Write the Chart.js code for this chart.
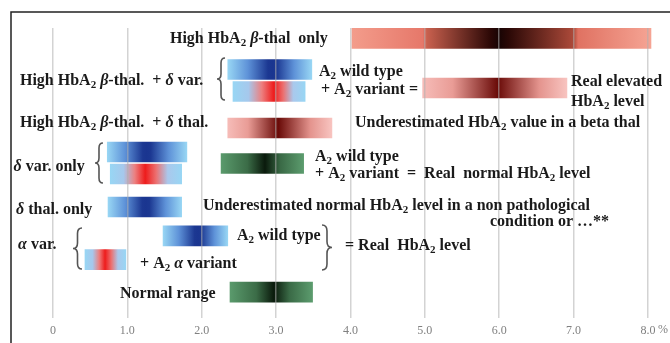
<!DOCTYPE html>
<html><head><meta charset="utf-8">
<script src="https://cdn.jsdelivr.net/npm/chart.js@4/dist/chart.umd.min.js"></script>
<style>html,body{margin:0;padding:0;background:#fff;overflow:hidden}canvas{display:block}</style>
</head><body>
<canvas id="c" width="670" height="343"></canvas>
<script>
// ---- data ----
const tickValues = [0, 1, 2, 3, 4, 5, 6, 7, 8];
const tickLabels = ['0', '1.0', '2.0', '3.0', '4.0', '5.0', '6.0', '7.0', '8.0'];
const barNames = ['High b-thal only', 'b-thal+d var: A2 wild type', 'b-thal+d var: A2 variant', 'Real elevated HbA2',
  'b-thal+d thal', 'd var only: wild type', 'd var only: variant', 'Real normal HbA2', 'd thal only',
  'a var: A2 wild type', 'a var: A2 a variant', 'Normal range'];
const barStart = [4.02, 2.35, 2.42, 4.97, 2.35, 0.73, 0.77, 2.26, 0.74, 1.48, 0.43, 2.38];
const barEnd   = [8.04, 3.48, 3.39, 6.91, 3.75, 1.80, 1.73, 3.37, 1.73, 2.35, 0.98, 3.49];
const barPeak  = [6.00, 2.95, 2.97, 5.98, 3.03, 1.26, 1.24, 2.85, 1.25, 1.95, 0.70, 2.97];
const barLane  = [0.95, 3.77, 5.77, 5.45, 9.09, 11.27, 13.27, 12.32, 16.27, 18.9, 21.05, 24.0];
const barKind  = ['deep', 'blue', 'bluered', 'rose', 'rose', 'blue', 'bluered', 'green', 'blue', 'blue', 'bluered', 'green'];

const labelTexts = [
  'High HbA_2 ~β~-thal  only',
  'High HbA_2 ~β~-thal.  + ~δ~ var.',
  'A_2 wild type',
  '+ A_2 variant =',
  'Real elevated',
  'HbA_2 level',
  'High HbA_2 ~β~-thal.  + ~δ~ thal.',
  'Underestimated HbA_2 value in a beta thal',
  '~δ~ var. only',
  'A_2 wild type',
  '+ A_2 variant  =  Real  normal HbA_2 level',
  '~δ~ thal. only',
  'Underestimated normal HbA_2 level in a non pathological',
  'condition or …**',
  '~α~ var.',
  'A_2 wild type',
  '+ A_2 ~α~ variant',
  '= Real  HbA_2 level',
  'Normal range'
];

// ---- layout (annotation anchors in axis units) ----
const labelAt = [
  [1.573, 1.364, 'left'], [-0.444, 5.18, 'left'], [3.577, 4.364, 'left'], [3.603, 6.0, 'left'],
  [6.965, 5.27, 'left'], [6.965, 7.09, 'left'], [-0.444, 9.0, 'left'], [4.06, 9.0, 'left'],
  [-0.53, 13.0, 'left'], [3.523, 12.09, 'left'], [3.523, 13.64, 'left'], [-0.497, 16.91, 'left'],
  [2.017, 16.55, 'left'], [7.476, 18.0, 'right'], [-0.47, 20.09, 'left'], [2.474, 19.27, 'left'],
  [1.17, 21.82, 'left'], [3.926, 20.18, 'left'], [0.901, 24.55, 'left']
];
const braces = [ // [tipX, backX, top, bottom]
  [2.205, 2.313, 2.73, 6.545],
  [0.565, 0.672, 10.45, 14.09],
  [0.269, 0.39, 18.18, 21.91],
  [3.751, 3.617, 17.91, 22.0]
];

const palettes = {
  deep: [[-1, '#f39c8b'], [-0.52, '#e6786a'], [-0.49, '#c8604e'], [-0.06, '#2c0806'], [0, '#180404'], [0.06, '#2a0806'], [0.49, '#ad4a3a'], [0.52, '#e07262'], [1, '#f5a494']],
  rose: [[-1, '#f6bcb8'], [-0.6, '#e99c96'], [0, '#6a0b08'], [0.6, '#e4948e'], [1, '#f8c4c0']],
  blue: [[-1, '#98d6f4'], [-0.55, '#5e92d8'], [-0.1, '#1c3892'], [0, '#1a3590'], [0.1, '#1c3892'], [0.55, '#5e92d8'], [1, '#98d6f4']],
  bluered: [[-1, '#98d6f4'], [-0.62, '#a6c8ec'], [-0.3, '#ec8080'], [0, '#ee1c1c'], [0.3, '#ec7070'], [0.62, '#aac8ec'], [1, '#98d6f4']],
  green: [[-1, '#5a9a6c'], [-0.4, '#3b6c47'], [0, '#0a1a0c'], [0.4, '#3a6a46'], [1, '#5c9c6e']]
};

function barGradient(context) {
  const chart = context.chart;
  const i = context.dataIndex;
  if (!chart.chartArea || i === undefined) return '#999';
  const x = chart.scales.x;
  const a = x.getPixelForValue(barStart[i]);
  const b = x.getPixelForValue(barEnd[i]);
  const p = (barPeak[i] - barStart[i]) / (barEnd[i] - barStart[i]);
  const g = chart.ctx.createLinearGradient(a, 0, b, 0);
  palettes[barKind[i]].forEach(([t, c]) => {
    const pos = t < 0 ? p * (1 + t) : p + (1 - p) * t;
    g.addColorStop(Math.min(1, Math.max(0, pos)), c);
  });
  return g;
}

function drawRich(ctx, str, x, y, align, size) {
  const segs = [];
  let it = false;
  for (let i = 0; i < str.length; i++) {
    const ch = str[i];
    if (ch === '~') { it = !it; continue; }
    let s;
    if (ch === '_') { s = { t: str[i + 1], sub: true, it }; i++; }
    else s = { t: ch, sub: false, it };
    const last = segs[segs.length - 1];
    if (last && last.sub === s.sub && last.it === s.it && !s.sub) last.t += s.t;
    else segs.push(s);
  }
  const fontFor = s => (s.it ? 'italic ' : '') + 'bold ' + (s.sub ? Math.round(size * 0.66) : size) + 'px "Liberation Serif", "Times New Roman", serif';
  let w = 0;
  segs.forEach(s => { ctx.font = fontFor(s); s.w = ctx.measureText(s.t).width; w += s.w; });
  let cx = align === 'right' ? x - w : align === 'center' ? x - w / 2 : x;
  segs.forEach(s => { ctx.font = fontFor(s); ctx.fillText(s.t, cx, y + (s.sub ? size * 0.2 : 0)); cx += s.w; });
}

function drawBrace(ctx, tip, back, top, bottom) {
  const xm = (tip + back) / 2;
  const mid = (top + bottom) / 2;
  const r = Math.abs(back - tip) / 2 + 1;
  ctx.beginPath();
  ctx.moveTo(back, top);
  ctx.quadraticCurveTo(xm, top, xm, top + r);
  ctx.lineTo(xm, mid - r);
  ctx.quadraticCurveTo(xm, mid, tip, mid);
  ctx.quadraticCurveTo(xm, mid, xm, mid + r);
  ctx.lineTo(xm, bottom - r);
  ctx.quadraticCurveTo(xm, bottom, back, bottom);
  ctx.stroke();
}

const decor = {
  id: 'decor',
  beforeDraw(chart) {
    const ctx = chart.ctx;
    ctx.save();
    ctx.fillStyle = '#fff';
    ctx.fillRect(0, 0, chart.width, chart.height);
    ctx.restore();
  },
  afterDraw(chart) {
    const ctx = chart.ctx;
    const xs = chart.scales.x, ys = chart.scales.y;
    ctx.save();
    // clean outer margins
    ctx.fillStyle = '#fff';
    ctx.fillRect(0, 0, chart.width, 11);
    ctx.fillRect(chart.width - 3, 11, 3, xs.top - 12);
    ctx.fillStyle = '#1a1a1a';
    ctx.textBaseline = 'alphabetic';
    ctx.textAlign = 'left';
    labelTexts.forEach((t, i) => {
      const [xv, yv, al] = labelAt[i];
      drawRich(ctx, t, xs.getPixelForValue(xv), ys.getPixelForValue(yv), al, 16);
    });
    ctx.strokeStyle = '#555';
    ctx.lineWidth = 1.6;
    braces.forEach(([tp, bk, tt, bb]) => {
      drawBrace(ctx, xs.getPixelForValue(tp), xs.getPixelForValue(bk), ys.getPixelForValue(tt), ys.getPixelForValue(bb));
    });
    // percent sign after the last tick label
    ctx.font = '12px "Liberation Serif", "Times New Roman", serif';
    ctx.fillStyle = '#808080';
    ctx.textBaseline = 'middle';
    ctx.fillText('%', xs.getPixelForValue(8) + 10, xs.bottom - 13);
    // outer frame
    ctx.strokeStyle = '#222';
    ctx.lineWidth = 1.5;
    ctx.beginPath();
    ctx.moveTo(11, chart.height);
    ctx.lineTo(11, 12);
    ctx.lineTo(chart.width, 12);
    ctx.stroke();
    ctx.restore();
  }
};

new Chart(document.getElementById('c'), {
  type: 'bar',
  data: {
    labels: barNames,
    datasets: [{
      data: barStart.map((s, i) => ({ x: [s, barEnd[i]], y: barLane[i] })),
      backgroundColor: barGradient,
      borderWidth: 0,
      barThickness: 20
    }]
  },
  options: {
    indexAxis: 'y',
    responsive: false,
    animation: false,
    devicePixelRatio: 1,
    layout: { padding: { left: 37, right: 7, top: 28, bottom: 0 } },
    plugins: { legend: { display: false }, tooltip: { enabled: false }, title: { display: false } },
    scales: {
      x: {
        type: 'linear',
        min: -0.215,
        max: 8.2017,
        afterBuildTicks: s => { s.ticks = tickValues.map(v => ({ value: v })); },
        afterFit: s => { s.height = 24; },
        ticks: {
          callback: (v) => { const k = tickValues.indexOf(v); return k >= 0 ? tickLabels[k] : ''; },
          font: { family: '"Liberation Serif", "Times New Roman", serif', size: 12 },
          color: '#808080',
          padding: 5,
          maxRotation: 0,
          autoSkip: false
        },
        grid: { color: 'rgba(175,175,175,0.55)', lineWidth: 1.5, drawTicks: false, z: 1 },
        border: { color: '#555', width: 1.6 }
      },
      y: {
        type: 'linear',
        min: 0,
        max: 26.45,
        reverse: true,
        offset: false,
        display: false,
        grid: { display: false, offset: false }
      }
    }
  },
  plugins: [decor]
});
</script>
</body></html>
